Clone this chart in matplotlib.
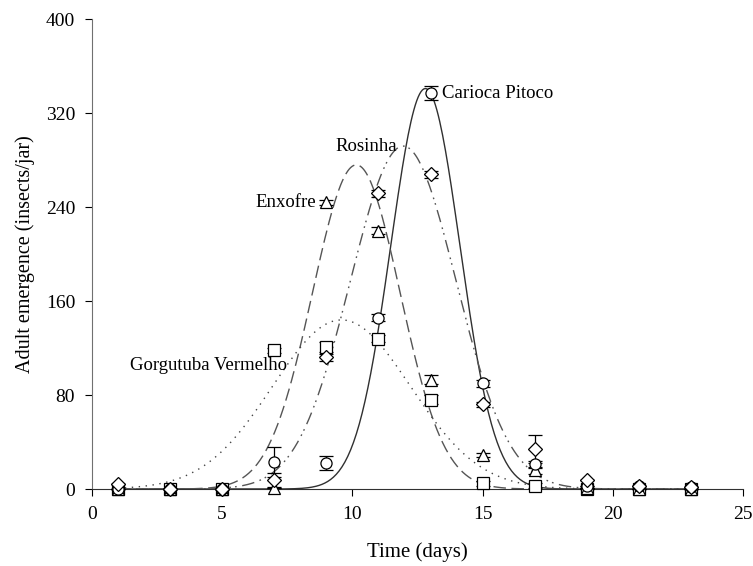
import numpy as np
import matplotlib
matplotlib.use("Agg")
import matplotlib.pyplot as plt

plt.rcParams['font.family'] = ['Liberation Serif', 'DejaVu Serif']

# sampling days
days = [1, 3, 5, 7, 9, 11, 13, 15, 17, 19, 21, 23]

# observed means (insects/jar)
carioca = [0, 0, 0, 23, 22, 146, 337, 90, 21, 3, 3, 2]
carioca_err = [0, 0, 0, 13, 6, 3, 6, 3, 3, 0, 0, 0]
enxofre = [0, 0, 0, 1, 244, 220, 93, 29, 16, 1, 0, 0]
enxofre_err = [0, 0, 0, 0, 2, 3, 4, 2, 3, 0, 0, 0]
rosinha = [4, 0, 0, 8, 112, 252, 268, 72, 34, 8, 3, 2]
rosinha_err = [0, 0, 0, 6, 3, 3, 3, 2, 12, 0, 0, 0]
gorgutuba = [0, 0, 0, 118, 121, 128, 76, 5, 3, 0, 0, 0]
gorgutuba_err = [0, 0, 0, 2, 4, 3, 4, 2, 2, 0, 0, 0]

# fitted gaussian curves: peak, centre (days), width (days)
fit_peak = [341, 276, 292, 144]
fit_centre = [12.8, 10.15, 11.95, 9.58]
fit_width = [1.33, 1.68, 2.03, 2.65]

names = ["Carioca Pitoco", "Enxofre", "Rosinha", "Gorgutuba Vermelho"]


def gauss(x, a, x0, b):
    return a * np.exp(-0.5 * ((x - x0) / b) ** 2)


fig = plt.figure(figsize=(7.53, 5.66), dpi=100)
ax = fig.add_axes([0.122, 0.136, 0.865, 0.830])

xs = np.linspace(1, 23, 400)
line_styles = ['-', (0, (9, 4)), (0, (9, 4, 1.2, 3, 1.2, 4)), (0, (1, 4))]
line_colors = ['#303030', '#555555', '#555555', '#444444']
for i in range(4):
    ax.plot(xs, gauss(xs, fit_peak[i], fit_centre[i], fit_width[i]),
            linestyle=line_styles[i], color=line_colors[i], lw=1.0, zorder=2)

series = [(gorgutuba, gorgutuba_err, 's'), (enxofre, enxofre_err, '^'),
          (carioca, carioca_err, 'o'), (rosinha, rosinha_err, 'D')]
sizes = {'s': 8, '^': 8.5, 'o': 8, 'D': 7.5}
for vals, err, m in series:
    ax.errorbar(days, vals, yerr=err, fmt=m, mfc='white', mec='black', mew=0.9,
                ms=sizes[m], ecolor='black', elinewidth=0.9, capsize=5,
                capthick=0.9, zorder=3, clip_on=False)

# curve labels
lab_fs = 13.5
ax.text(13.45, 337, names[0], fontsize=lab_fs, va='center', ha='left')
ax.text(11.7, 292, names[2], fontsize=lab_fs, va='center', ha='right')
ax.text(8.6, 244, names[1], fontsize=lab_fs, va='center', ha='right')
ax.text(7.5, 105, names[3], fontsize=lab_fs, va='center', ha='right')

ax.set_xlim(0, 25)
ax.set_ylim(0, 400)
ax.set_xticks([0, 5, 10, 15, 20, 25])
ax.set_yticks([0, 80, 160, 240, 320, 400])
ax.spines['top'].set_visible(False)
ax.spines['right'].set_visible(False)
ax.spines['left'].set_color('#707070')
ax.spines['bottom'].set_color('#303030')
ax.tick_params(direction='out', length=5, labelsize=14, pad=7)
ax.set_xlabel('Time (days)', fontsize=15, labelpad=14)
ax.set_ylabel('Adult emergence (insects/jar)', fontsize=14.5, labelpad=8)

fig.savefig('out.png', dpi=100)
